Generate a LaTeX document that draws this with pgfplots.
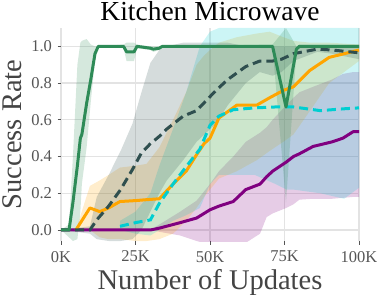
\documentclass[border=0pt]{standalone}
\usepackage{fontspec}
\setmainfont{Liberation Serif}
\usepackage{pgfplots}
\usepackage{pgfplotstable}
\pgfplotsset{compat=1.18}
\usepgfplotslibrary{fillbetween}

\definecolor{cgreen}{HTML}{2E8B57}
\definecolor{cdark}{HTML}{2F4F4F}
\definecolor{corange}{HTML}{FFA500}
\definecolor{ccyan}{HTML}{00CED1}
\definecolor{cpurple}{HTML}{800080}
\definecolor{tickgray}{HTML}{555555}
\definecolor{gridgray}{HTML}{E3E3E3}

\pgfplotstableread{
x m lo hi
0 0 0 0
2.7 0 -0.04 0.03
4 0.15 -0.06 0.4
5.5 0.35 -0.05 0.9
6.5 0.5 0.1 1.02
7 0.52 0.25 1.03
8.6 0.69 0.45 1.04
10 0.82 0.7 1.01
11.4 0.96 0.92 1.0
12.5 1.0 1.0 1.0
21 1.0 0.99 1.01
22 0.97 0.92 1.02
24.5 0.97 0.92 1.02
25.5 1.0 0.99 1.01
30 0.99 0.98 1.0
31 0.985 0.97 1.0
33 0.99 0.98 1.0
34 1.0 1.0 1.0
71 1.0 0.99 1.01
75.5 0.67 0.15 1.1
79 0.985 0.97 1.0
80 1.0 0.99 1.01
100 1.0 0.99 1.01
}\tgreen

\pgfplotstableread{
x m lo hi
0 0 0 0
9.7 0 -0.02 0.02
12 0.055 -0.05 0.18
16 0.13 -0.06 0.3
20 0.22 -0.06 0.43
24 0.33 -0.05 0.58
27 0.42 0.0 0.75
30 0.47 0.1 0.91
33 0.51 0.2 0.98
35.5 0.55 0.27 1.0
41 0.62 0.38 1.02
45.5 0.65 0.48 1.02
52 0.76 0.58 1.02
56 0.82 0.68 1.02
62 0.89 0.8 1.0
66.7 0.92 0.86 1.0
71 0.92 0.84 1.0
74 0.93 0.86 1.0
78 0.96 0.92 1.0
86 0.985 0.97 1.0
91 0.98 0.96 1.0
100 0.965 0.93 1.0
}\tdark

\pgfplotstableread{
x m lo hi
5 0 0 0
9.7 0.12 0.0 0.24
13 0.10 -0.04 0.27
16 0.12 -0.05 0.3
19.8 0.155 -0.05 0.34
25 0.16 -0.06 0.35
28.7 0.165 -0.06 0.36
33 0.17 -0.05 0.45
37.6 0.25 -0.02 0.6
42 0.32 0.05 0.75
45.5 0.41 0.12 0.9
48 0.47 0.18 0.95
50 0.5 0.22 0.98
53 0.61 0.28 1.02
59 0.68 0.32 1.05
65.7 0.68 0.38 1.07
70 0.72 0.43 1.08
74.6 0.76 0.48 1.05
78 0.78 0.52 1.03
83.6 0.87 0.65 1.02
90 0.94 0.8 1.02
100 0.98 0.92 1.01
}\torange

\pgfplotstableread{
x m lo hi
19.8 0.02 0 0.05
25 0.04 -0.02 0.1
30 0.055 -0.03 0.2
33 0.145 0.0 0.35
37.6 0.25 0.05 0.55
42 0.345 0.08 0.75
46.6 0.44 0.12 1.0
50 0.57 0.25 1.08
53 0.62 0.3 1.1
57.8 0.655 0.3 1.1
65 0.665 0.3 1.1
72 0.67 0.25 1.1
75.7 0.67 0.22 1.1
78 0.67 0.22 1.1
87 0.65 0.2 1.1
95 0.66 0.17 1.1
100 0.665 0.23 1.1
}\tcyan

\pgfplotstableread{
x m lo hi
0 0 0 0
30 0 0 0
33 0.01 -0.01 0.03
40 0.04 -0.03 0.1
45.5 0.065 -0.06 0.16
50 0.11 -0.08 0.25
53 0.13 -0.08 0.32
57.8 0.155 -0.08 0.4
62 0.22 -0.07 0.48
66.8 0.25 -0.02 0.53
69 0.29 0.07 0.56
71 0.32 0.09 0.6
75.6 0.37 0.12 0.68
78 0.40 0.14 0.72
80 0.415 0.165 0.75
84.6 0.455 0.17 0.78
91 0.48 0.17 0.82
94.6 0.50 0.175 0.85
98 0.535 0.18 0.86
100 0.535 0.18 0.86
}\tpurple

\begin{document}
\begin{tikzpicture}
\begin{axis}[
  scale only axis,
  width=298pt, height=213pt,
  xmin=0, xmax=100, ymin=-0.06, ymax=1.1,
  axis line style={draw=none},
  grid=major,
  grid style={gridgray, line width=1.2pt},
  xtick={0,25,50,75,100},
  xticklabels={0K,25K,50K,75K,100K},
  ytick={0,0.2,0.4,0.6,0.8,1.0},
  yticklabel style={/pgf/number format/fixed, /pgf/number format/precision=1, /pgf/number format/fixed zerofill},
  /pgf/number format/assume math mode=true,
  tick label style={font=\fontsize{16.5}{18}\selectfont, text=tickgray},
  xtick pos=lower, ytick pos=left,
  tick align=outside,
  major tick length=3.5pt,
  tick style={tickgray, line width=0.8pt},
  xticklabel style={yshift=-3pt},
  yticklabel style={xshift=-2pt},
  xlabel={Number of Updates},
  ylabel={Success Rate},
  label style={font=\fontsize{28.5}{30}\selectfont, text=tickgray!80!black},
  xlabel style={at={(axis description cs:0.5,-0.226)}, anchor=base},
  ylabel style={at={(axis description cs:-0.163,0.5)}, anchor=center},
  every axis title shift=0pt,
  title={Kitchen Microwave},
  title style={font=\fontsize{27.5}{30}\selectfont, at={(axis description cs:0.5,1.036)}, anchor=base},
  clip=true,
]
% bands
\addplot[name path=pu, draw=none, forget plot] table[x=x,y=hi]{\tpurple};
\addplot[name path=pl, draw=none, forget plot] table[x=x,y=lo]{\tpurple};
\addplot[cpurple, fill opacity=0.2, forget plot] fill between[of=pu and pl];
\addplot[name path=ou, draw=none, forget plot] table[x=x,y=hi]{\torange};
\addplot[name path=ol, draw=none, forget plot] table[x=x,y=lo]{\torange};
\addplot[corange, fill opacity=0.2, forget plot] fill between[of=ou and ol];
\addplot[name path=cu, draw=none, forget plot] table[x=x,y=hi]{\tcyan};
\addplot[name path=cl, draw=none, forget plot] table[x=x,y=lo]{\tcyan};
\addplot[ccyan, fill opacity=0.2, forget plot] fill between[of=cu and cl];
\addplot[name path=du, draw=none, forget plot] table[x=x,y=hi]{\tdark};
\addplot[name path=dl, draw=none, forget plot] table[x=x,y=lo]{\tdark};
\addplot[cdark, fill opacity=0.2, forget plot] fill between[of=du and dl];
\addplot[name path=gu, draw=none, forget plot] table[x=x,y=hi]{\tgreen};
\addplot[name path=gl, draw=none, forget plot] table[x=x,y=lo]{\tgreen};
\addplot[cgreen, fill opacity=0.2, forget plot] fill between[of=gu and gl];
% lines
\addplot[cpurple, line width=3pt, line join=round] table[x=x,y=m]{\tpurple};
\addplot[corange, line width=3pt, line join=round] table[x=x,y=m]{\torange};
\addplot[ccyan, line width=3pt, dash pattern=on 9pt off 5pt] table[x=x,y=m]{\tcyan};
\addplot[cdark, line width=3pt, dash pattern=on 9pt off 5pt] table[x=x,y=m]{\tdark};
\addplot[cgreen, line width=3pt, line join=round] table[x=x,y=m]{\tgreen};
\end{axis}
\pgfresetboundingbox
\path[use as bounding box] (-61pt,-53pt) rectangle (318pt,241pt);
\end{tikzpicture}
\end{document}
